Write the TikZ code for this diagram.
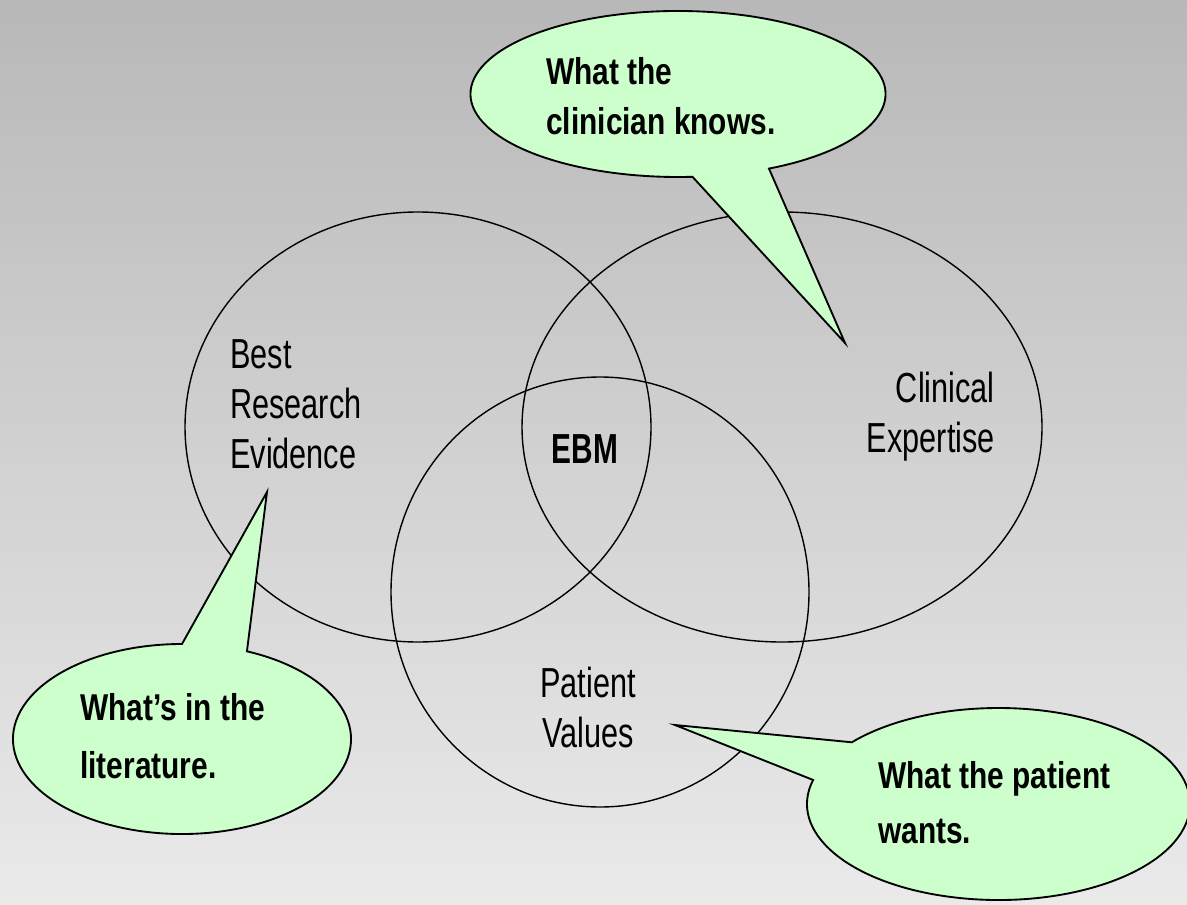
\documentclass[tikz,border=0pt]{standalone}
\usepackage{fontspec}
\newfontfamily\labelfont[FakeStretch=0.73]{Liberation Sans}
\newfontfamily\bubblefont[FakeStretch=0.8]{Liberation Sans}
\newfontfamily\ebmfont[FakeStretch=0.71]{Liberation Sans}

\definecolor{bgtop}{HTML}{B8B8B8}
\definecolor{bgbottom}{HTML}{EAEAEA}
\definecolor{bubblegreen}{HTML}{CCFFCC}

\tikzset{
  venn/.style={draw=black, line width=1.05pt},
  bubble/.style={draw=black, fill=bubblegreen, line width=1.4pt, line join=miter},
  venntext/.style={font=\labelfont\fontsize{31.5}{37.5}\selectfont, inner sep=0pt},
  bubbletext/.style={font=\bubblefont\bfseries\fontsize{28}{#1}\selectfont, inner sep=0pt, align=left, anchor=base west}
}

\begin{document}
\begin{tikzpicture}[x=0.75pt, y=-0.75pt]
   \shade[top color=bgtop, bottom color=bgbottom] (0,0) rectangle (1187,905);
   \useasboundingbox (0,0) rectangle (1187,905);

   % the three circles
   \draw[venn] (418,427) ellipse [x radius=233, y radius=215];
   \draw[venn] (782,427) ellipse [x radius=260, y radius=215];
   \draw[venn] (600,592) ellipse [x radius=209, y radius=215];

   % base of a multi-line node = baseline of its last line
   \node[venntext, align=left, anchor=base west] (evidence) at (230,468) {Best\\Research\\Evidence};
   \node[venntext, align=right, anchor=base east] (expertise) at (995,452) {Clinical\\Expertise};
   \node[venntext, align=center, anchor=base] (values) at (588,747) {Patient\\Values};
   \node[font=\ebmfont\bfseries\fontsize{31.5}{37.5}\selectfont, inner sep=0pt, anchor=base] (ebm) at (585,463) {EBM};

   % callouts
   \coordinate (knowsc) at (678,94);
   \coordinate (knowstip) at (845,343);
   \draw[bubble] ([shift={(86:207.5 and 83)}]knowsc) -- (knowstip)
      -- ([shift={(64:207.5 and 83)}]knowsc)
      arc[start angle=64, end angle=-274, x radius=207.5, y radius=83] -- cycle;

   \coordinate (litc) at (182,739);
   \coordinate (littip) at (267,492);
   \draw[bubble] ([shift={(-90:169 and 95)}]litc) -- (littip)
      -- ([shift={(-67.4:169 and 95)}]litc)
      arc[start angle=-67.4, end angle=270, x radius=169, y radius=95] -- cycle;

   \coordinate (wantsc) at (998.5,804);
   \coordinate (wantstip) at (675,725);
   \draw[bubble] ([shift={(-140:191.5 and 96)}]wantsc) -- (wantstip)
      -- ([shift={(194.5:191.5 and 96)}]wantsc)
      arc[start angle=194.5, end angle=-140, x radius=191.5, y radius=96] -- cycle;

   \node[bubbletext=37.5pt] (knows) at (546,135) {What the\\clinician knows.};
   \node[bubbletext=43.5pt] (literature) at (80,778) {What’s in the\\literature.};
   \node[bubbletext=41.25pt] (wants) at (878,843) {What the patient\\wants.};
\end{tikzpicture}
\end{document}
